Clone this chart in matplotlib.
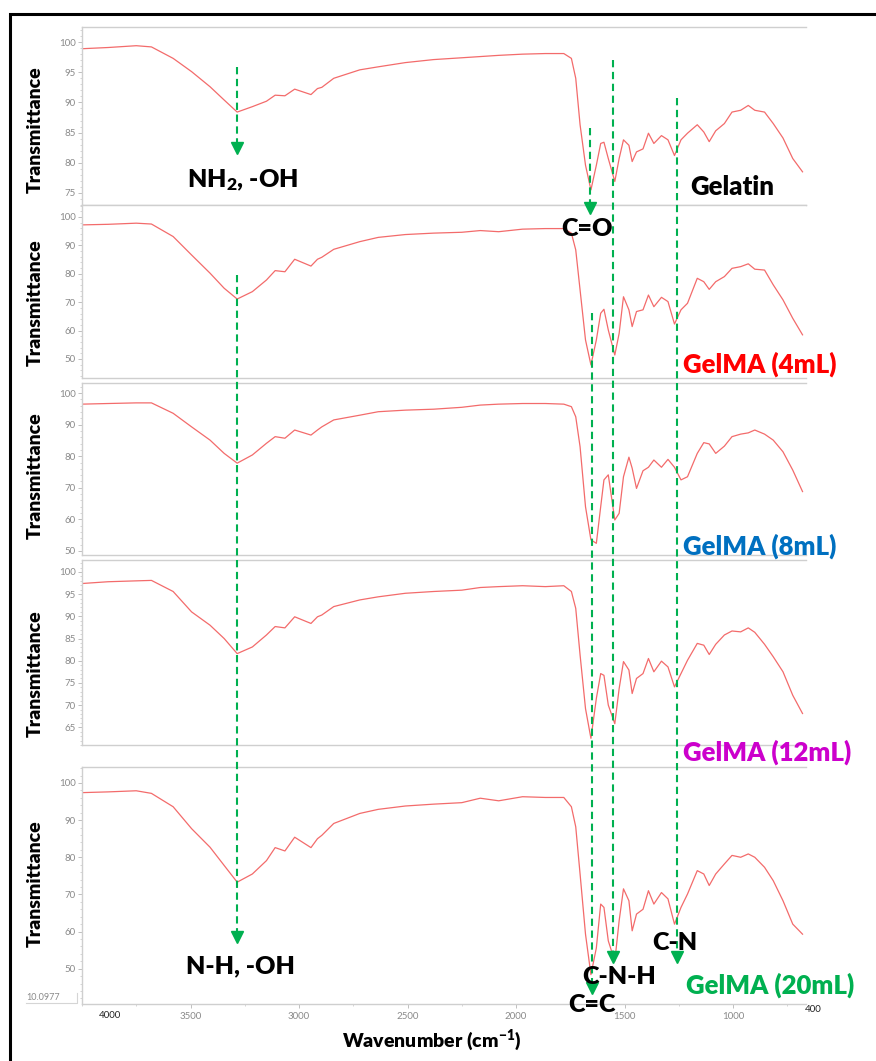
import matplotlib
matplotlib.use("Agg")
import matplotlib.pyplot as plt
import matplotlib.transforms as mtransforms
from matplotlib.lines import Line2D
from matplotlib.patches import Rectangle
from matplotlib.ticker import MultipleLocator, AutoMinorLocator

plt.rcParams['font.family'] = ['Lato', 'DejaVu Sans']
plt.rcParams['mathtext.fontset'] = 'custom'
plt.rcParams['mathtext.rm'] = 'Lato:heavy'
plt.rcParams['mathtext.default'] = 'rm'

# FTIR spectra (wavenumber in cm-1, transmittance in %)
wavenumber = [4000, 3880, 3750, 3680, 3580, 3495, 3410, 3345, 3285, 3215,
              3150, 3110, 3065, 3020, 2945, 2915, 2895, 2840, 2720, 2635,
              2510, 2380, 2250, 2165, 2080, 1970, 1865, 1780, 1745, 1725,
              1705, 1680, 1655, 1630, 1610, 1595, 1575, 1545, 1525, 1505,
              1480, 1465, 1445, 1415, 1390, 1365, 1330, 1300, 1270, 1240,
              1210, 1165, 1135, 1110, 1080, 1040, 1005, 965, 930, 900,
              855, 815, 770, 725, 680]

gelatin = [98.9, 99.1, 99.4, 99.2, 97.3, 95.1, 92.6, 90.4, 88.4, 89.3,
           90.2, 91.2, 91.1, 92.2, 91.3, 92.3, 92.5, 94.0, 95.4, 95.9,
           96.6, 97.1, 97.4, 97.6, 97.8, 98.0, 98.1, 98.1, 97.3, 94.0,
           86.3, 79.6, 75.5, 79.6, 83.2, 83.4, 80.7, 76.9, 80.7, 83.8,
           82.9, 80.2, 81.8, 82.3, 84.9, 83.2, 84.5, 83.8, 81.2, 83.8,
           84.9, 86.3, 85.1, 83.5, 85.3, 86.5, 88.4, 88.7, 89.5, 88.7,
           88.4, 86.5, 84.1, 80.7, 78.5]

gelma_4ml = [97.2, 97.4, 97.8, 97.5, 93.1, 86.6, 80.2, 74.9, 71.1, 73.7,
             77.8, 81.1, 80.7, 85.1, 82.7, 85.1, 85.8, 88.6, 91.3, 92.8,
             93.8, 94.3, 94.6, 95.2, 94.8, 95.7, 95.9, 95.9, 94.3, 88.4,
             74.3, 56.7, 47.9, 56.7, 66.1, 67.5, 60.2, 51.4, 59.0, 71.9,
             67.3, 61.4, 66.7, 67.3, 72.5, 68.4, 71.7, 70.2, 62.3, 67.3,
             69.6, 78.4, 77.2, 74.5, 77.2, 79.0, 81.9, 82.5, 83.5, 81.6,
             81.3, 76.1, 70.8, 64.3, 58.5]

gelma_8ml = [96.5, 96.7, 96.9, 96.9, 93.6, 89.3, 85.1, 80.9, 77.8, 80.4,
             84.1, 86.2, 85.7, 88.3, 86.7, 88.3, 89.3, 91.5, 93.0, 94.1,
             94.6, 94.9, 95.5, 96.2, 96.5, 96.7, 96.7, 96.5, 95.7, 92.5,
             83.0, 64.0, 53.5, 52.4, 64.0, 72.5, 74.1, 59.8, 61.9, 73.5,
             79.7, 76.2, 69.8, 75.4, 76.5, 78.8, 76.5, 79.0, 76.5, 72.5,
             73.5, 80.9, 84.3, 83.9, 80.9, 83.2, 86.2, 87.0, 87.4, 88.3,
             87.0, 85.1, 81.4, 75.6, 68.8]

gelma_12ml = [97.4, 97.8, 98.0, 98.1, 95.6, 91.0, 88.0, 85.0, 81.6, 83.1,
              85.8, 87.7, 87.4, 89.9, 88.4, 89.9, 90.3, 92.2, 93.7, 94.4,
              95.2, 95.6, 95.9, 96.5, 96.7, 96.9, 96.7, 96.9, 95.6, 91.8,
              81.3, 69.2, 62.5, 71.5, 77.1, 76.7, 70.0, 65.8, 73.7, 79.8,
              77.9, 72.6, 76.0, 77.1, 80.5, 77.5, 79.9, 78.6, 74.1, 77.1,
              80.1, 83.9, 83.5, 81.4, 83.7, 85.8, 86.7, 86.5, 87.4, 86.4,
              83.7, 80.9, 77.5, 72.2, 68.1]

gelma_20ml = [97.4, 97.6, 97.9, 97.2, 93.6, 87.7, 82.7, 77.8, 73.3, 75.5,
              79.1, 82.6, 81.7, 85.4, 82.6, 85.0, 85.9, 89.1, 91.8, 92.9,
              93.8, 94.3, 94.7, 95.9, 95.2, 96.3, 96.1, 96.1, 93.6, 88.2,
              75.5, 59.3, 48.4, 55.6, 67.4, 66.5, 57.5, 52.0, 62.9, 71.5,
              68.3, 60.2, 64.7, 66.0, 71.0, 67.4, 70.5, 68.8, 62.0, 66.5,
              70.1, 76.4, 75.5, 72.4, 75.5, 78.2, 80.5, 80.0, 80.9, 80.0,
              77.3, 73.7, 68.3, 62.0, 59.3]

spectra = [gelatin, gelma_4ml, gelma_8ml, gelma_12ml, gelma_20ml]
sample_names = ['Gelatin', 'GelMA (4mL)', 'GelMA (8mL)', 'GelMA (12mL)', 'GelMA (20mL)']
name_colors = ['black', '#ff0000', '#0070c0', '#cc00cc', '#00b050']
y_limits = [(73, 102.5), (43.3, 104.2), (48.7, 103.2), (61, 102.7), (40.5, 104.3)]
y_steps = [5, 10, 10, 5, 10]
x_ticks = [3500, 3000, 2500, 2000, 1500, 1000]

# band assignments: (label, wavenumber, arrow start px, arrow tip px, text x px, text y px)
bands = [(r'NH$_{2}$, -OH', 3286, 67, 153, 242, 180),
         ('C=O', 1660, 128, 213, 587, 229),
         ('C-N-H', 1553, 60, 962, 619, 977),
         ('C-N', 1258, 98, 962, 675, 943),
         ('N-H, -OH', 3286, 275, 942, 240, 966),
         ('C=C', 1648, 313, 993, 592, 1005)]

W, H = 876, 1061
fig = plt.figure(figsize=(W / 100, H / 100), dpi=100)


def fx(px):
    return px / W


def fy(py):
    return 1 - py / H


# panel frames in pixels: (top, bottom)
frames = [(27, 205), (205, 378), (383, 555), (560, 745), (767, 1004)]
ylabel_y = [130, 303, 476, 674, 884]
name_pos = [(690, 187), (683, 364), (683, 546), (683, 752), (686, 985)]
grey = '#8a8a8a'
spine_grey = '#cfcfcf'
heavy = 'heavy'

axes = []
for i, (top, bottom) in enumerate(frames):
    ax = fig.add_axes([fx(82), fy(bottom), fx(806) - fx(82), (bottom - top) / H])
    ax.plot(wavenumber, spectra[i], color='#f36b6b', lw=0.9)
    ax.set_xlim(4000, 664)
    ax.set_ylim(*y_limits[i])
    ax.yaxis.set_major_locator(MultipleLocator(y_steps[i]))
    ax.yaxis.set_minor_locator(AutoMinorLocator(5))
    ax.spines['right'].set_visible(False)
    for s in ['top', 'bottom', 'left']:
        ax.spines[s].set_color(spine_grey)
        ax.spines[s].set_linewidth(1.0)
    ax.tick_params(axis='y', which='major', length=3, width=0.6, color='#b5b5b5',
                   labelsize=7, labelcolor=grey, pad=1.5)
    ax.tick_params(axis='y', which='minor', length=1.5, width=0.5, color='#c5c5c5')
    if i < 4:
        ax.tick_params(axis='x', which='both', bottom=False, labelbottom=False)
    else:
        ax.set_xticks(x_ticks)
        ax.xaxis.set_minor_locator(MultipleLocator(250))
        ax.tick_params(axis='x', which='major', length=3, width=0.6, color='#b5b5b5',
                       labelsize=7, labelcolor=grey, pad=3)
        ax.tick_params(axis='x', which='minor', length=1.5, width=0.5, color='#c5c5c5')
    fig.text(fx(35), fy(ylabel_y[i]), 'Transmittance', rotation=90, ha='center',
             va='center', fontsize=14, fontweight=heavy)
    nx, ny = name_pos[i]
    fig.text(fx(nx), fy(ny), sample_names[i], ha='left', va='center',
             fontsize=18.5, fontweight=heavy, color=name_colors[i])
    axes.append(ax)

# dashed green arrows marking the bands (x in data, y in figure)
green = '#00b050'
trans = mtransforms.blended_transform_factory(axes[-1].transData, fig.transFigure)
for label, wn, y0, y1, tx, ty in bands:
    fig.add_artist(Line2D([wn, wn], [fy(y0), fy(y1 - 9)], transform=trans,
                          color=green, lw=1.5, dashes=(3.5, 2.2)))
    fig.add_artist(Line2D([wn], [fy(y1 - 5)], transform=trans, marker='v',
                          markersize=8, color=green, linestyle='none'))
    fig.text(fx(tx), fy(ty), label, ha='center', va='center', fontsize=18,
             fontweight=heavy, color='black')

# axis title and stray labels from the instrument export
fig.text(fx(432), fy(1040), r'Wavenumber (cm$^{-1}$)', ha='center', va='center',
         fontsize=14, fontweight=heavy)
fig.text(fx(110), fy(1016), '4000', ha='center', va='center', fontsize=7, color='#222222')
fig.text(fx(813), fy(1010), '400', ha='center', va='center', fontsize=7, color='#222222')
fig.text(fx(26), fy(997), '10.0977', ha='left', va='center', fontsize=6.5, color=grey)
fig.add_artist(Line2D([fx(26), fx(77), fx(77)], [fy(1003), fy(1003), fy(993)],
                      transform=fig.transFigure, color='#d5d5d5', lw=0.8))

# outer black frame (only left and top edges fall inside the image)
fig.add_artist(Rectangle((fx(10), -0.1), 1.2, fy(14) + 0.1, transform=fig.transFigure,
                         fill=False, edgecolor='black', lw=2.2, clip_on=False))

fig.savefig('out.png', dpi=100)
